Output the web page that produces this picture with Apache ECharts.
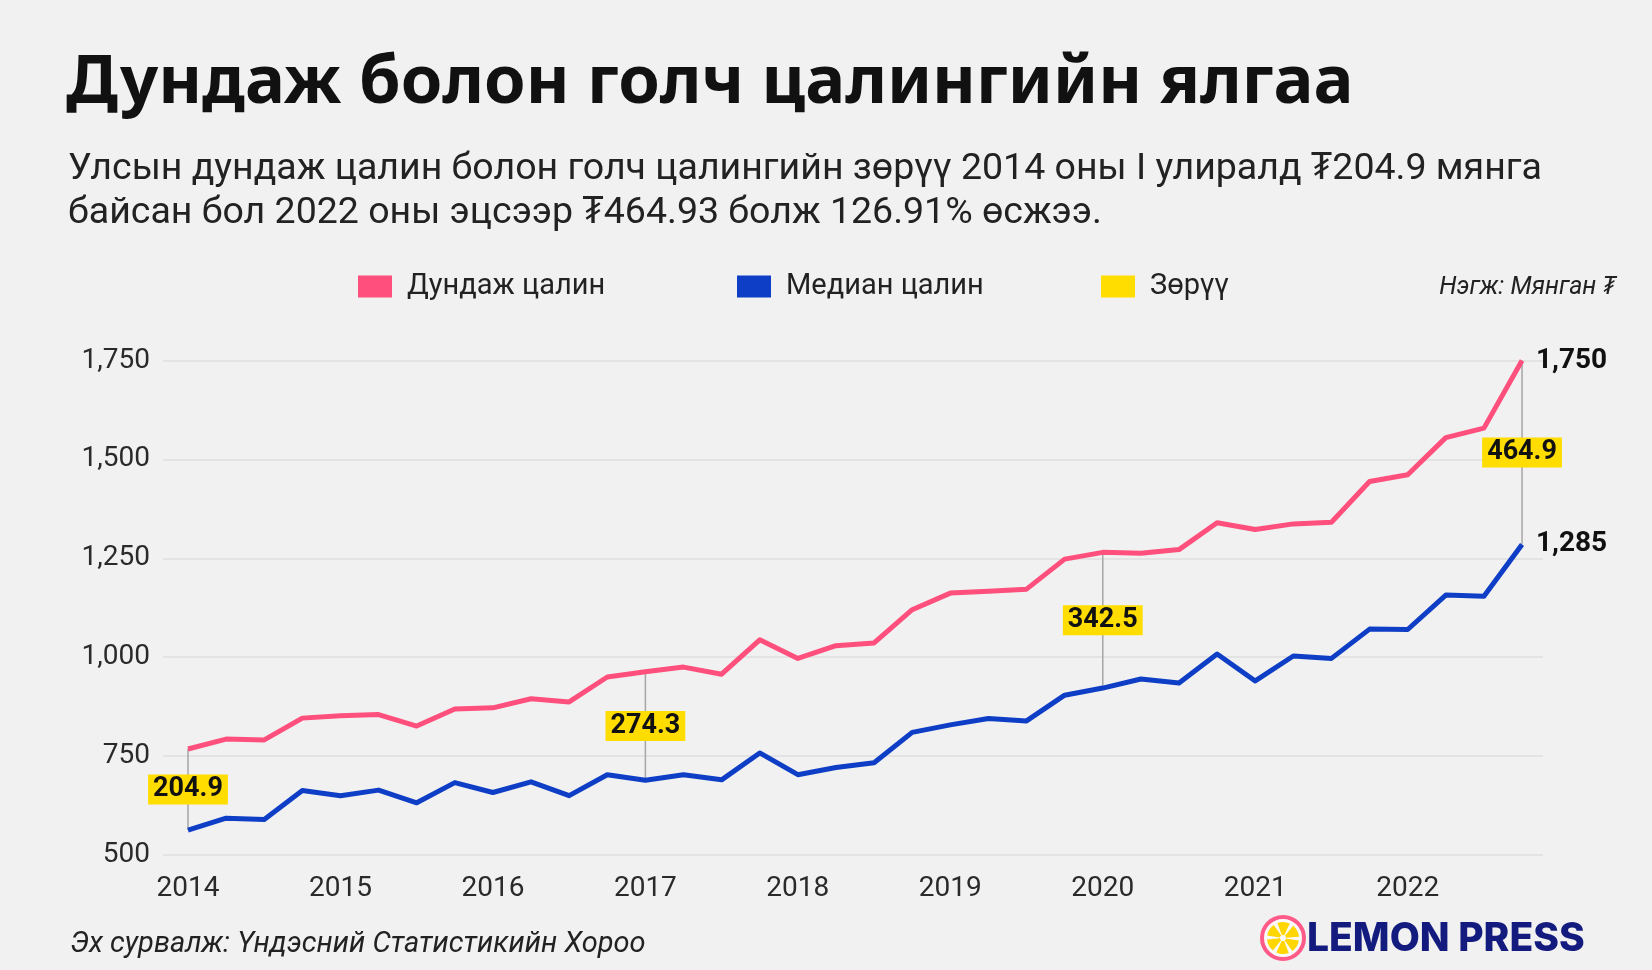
<!DOCTYPE html>
<html><head><meta charset="utf-8">
<script src="https://cdn.jsdelivr.net/npm/echarts@6/dist/echarts.min.js"></script>
<style>html,body{margin:0;padding:0;background:#f1f1f1}#c{width:1652px;height:970px}</style>
</head><body><div id="c"></div>
<script>
const quarters = ['2014 I','2014 II','2014 III','2014 IV','2015 I','2015 II','2015 III','2015 IV',
  '2016 I','2016 II','2016 III','2016 IV','2017 I','2017 II','2017 III','2017 IV',
  '2018 I','2018 II','2018 III','2018 IV','2019 I','2019 II','2019 III','2019 IV',
  '2020 I','2020 II','2020 III','2020 IV','2021 I','2021 II','2021 III','2021 IV',
  '2022 I','2022 II','2022 III','2022 IV'];
const meanWage = [768,793,791,846,852,855,826,869,872,895,887,950,
  963,975,957,1044,997,1029,1036,1120,1162,1167,1172,1248,
  1265,1263,1272,1340,1323,1337,1341,1444,1461,1555,1579,1750];
const medianWage = [563,593,590,663,650,664,632,683,658,685,650,703,
  689,703,690,758,703,721,733,810,829,845,839,904,
  922,945,935,1008,940,1003,997,1071,1070,1157,1154,1285];
const yearLabels = ['2014','2015','2016','2017','2018','2019','2020','2021','2022'];
const yearTickIdx = [0,4,8,12,16,20,24,28,32];
const gapIdx = [0,12,24,35];
const gapLabels = ['204.9','274.3','342.5','464.9'];
const seriesNames = ['Дундаж цалин','Медиан цалин','Зөрүү'];

const FONT = 'Roboto, "Noto Sans", "DejaVu Sans", sans-serif';
const HFONT = '"Noto Sans", Roboto, "DejaVu Sans", sans-serif';
const PINK = '#FF4F7C', BLUE = '#0E3EC6', YELLOW = '#FFDD00';

const chart = echarts.init(document.getElementById('c'));
const legendBase = {
  top: 272, padding: 0, itemWidth: 34, itemHeight: 22, icon: 'rect', selectedMode: false,
  textStyle: { fontFamily: FONT, fontSize: 29, color: '#222', padding: [0,0,0,10] }
};
chart.setOption({
  backgroundColor: '#f1f1f1',
  textStyle: { fontFamily: FONT },
  animation: false,
  grid: { left: 163, right: 109, top: 360.5, bottom: 115, containLabel: false },
  legend: [
    Object.assign({}, legendBase, { data: [seriesNames[0]], left: 358 }),
    Object.assign({}, legendBase, { data: [seriesNames[1]], left: 737 }),
    Object.assign({}, legendBase, { data: [seriesNames[2]], left: 1101 })
  ],
  xAxis: {
    type: 'value', min: -0.656, max: 35.55,
    axisLine: { show: false }, axisTick: { show: false }, splitLine: { show: false },
    axisLabel: {
      customValues: yearTickIdx,
      formatter: v => yearLabels[yearTickIdx.indexOf(v)] || '',
      fontSize: 28, color: '#2a2a2a', margin: 20, fontFamily: FONT
    }
  },
  yAxis: {
    type: 'value', min: 500, max: 1750, interval: 250,
    axisLine: { show: false }, axisTick: { show: false },
    axisLabel: { fontSize: 28, color: '#2a2a2a', margin: 13, fontFamily: FONT,
      formatter: v => v.toLocaleString('en-US') },
    splitLine: { lineStyle: { color: '#dedede', width: 1.5 } }
  },
  series: [
    {
      name: seriesNames[0], type: 'line', z: 3,
      data: meanWage.map((v, i) => [i, v]),
      symbol: 'none', color: PINK,
      lineStyle: { width: 5, color: PINK, join: 'round' },
      endLabel: { show: true, distance: 14, fontSize: 28, fontWeight: 'bold', color: '#111', fontFamily: FONT,
        formatter: p => p.value[1].toLocaleString('en-US') }
    },
    {
      name: seriesNames[1], type: 'line', z: 3,
      data: medianWage.map((v, i) => [i, v]),
      symbol: 'none', color: BLUE,
      lineStyle: { width: 5, color: BLUE, join: 'round' },
      endLabel: { show: true, distance: 14, fontSize: 28, fontWeight: 'bold', color: '#111', fontFamily: FONT,
        formatter: p => p.value[1].toLocaleString('en-US') }
    },
    {
      name: seriesNames[2], type: 'custom', z: 2,
      itemStyle: { color: YELLOW },
      encode: { x: 0, y: [1, 2] },
      data: gapIdx.map(i => [i, meanWage[i], medianWage[i]]),
      renderItem: (params, api) => {
        const x = api.value(0);
        const top = api.coord([x, api.value(1)]);
        const bot = api.coord([x, api.value(2)]);
        return { type: 'group', children: [
          { type: 'line', shape: { x1: top[0], y1: top[1], x2: bot[0], y2: bot[1] },
            style: { stroke: '#a6a6a6', lineWidth: 1.5 } },
          { type: 'text', x: top[0], y: (top[1] + bot[1]) / 2,
            style: { text: gapLabels[params.dataIndex], fontSize: 27, fontWeight: 'bold', fontFamily: FONT,
              fill: '#111', backgroundColor: YELLOW, padding: [2, 5, 1, 5],
              align: 'center', verticalAlign: 'middle' } }
        ] };
      }
    }
  ],
  graphic: [
    { type: 'text', x: 66, y: 84, style: { text: 'Дундаж болон голч цалингийн ялгаа',
      fontFamily: HFONT, fontSize: 67, fontWeight: 'bold', fill: '#111', verticalAlign: 'middle' } },
    { type: 'text', x: 68, y: 170, style: { text: 'Улсын дундаж цалин болон голч цалингийн зөрүү 2014 оны I улиралд ₮204.9 мянга',
      fontFamily: FONT, fontSize: 37.5, fill: '#222', verticalAlign: 'middle' } },
    { type: 'text', x: 68, y: 214, style: { text: 'байсан бол 2022 оны эцсээр ₮464.93 болж 126.91% өсжээ.',
      fontFamily: FONT, fontSize: 37.5, fill: '#222', verticalAlign: 'middle' } },
    { type: 'text', x: 1615, y: 288, style: { text: 'Нэгж: Мянган ₮',
      fontFamily: FONT, fontSize: 25, fontStyle: 'italic', fill: '#222', align: 'right', verticalAlign: 'middle' } },
    { type: 'text', x: 70, y: 945, style: { text: 'Эх сурвалж: Үндэсний Статистикийн Хороо',
      fontFamily: FONT, fontSize: 29, fontStyle: 'italic', fill: '#222', verticalAlign: 'middle' } },
    { type: 'group', x: 1283, y: 938, children: [
      { type: 'circle', shape: { cx: 0, cy: 0, r: 21 }, style: { fill: '#fafafa', stroke: '#FF5A88', lineWidth: 4 } },
      { type: 'sector', shape: { cx: 0, cy: 0, r0: 3, r: 16, startAngle: 0.15, endAngle: 0.95 }, style: { fill: '#FFD600' } },
      { type: 'sector', shape: { cx: 0, cy: 0, r0: 3, r: 16, startAngle: 1.2, endAngle: 2.0 }, style: { fill: '#FFD600' } },
      { type: 'sector', shape: { cx: 0, cy: 0, r0: 3, r: 16, startAngle: 2.25, endAngle: 3.05 }, style: { fill: '#FFD600' } },
      { type: 'sector', shape: { cx: 0, cy: 0, r0: 3, r: 16, startAngle: 3.3, endAngle: 4.1 }, style: { fill: '#FFD600' } },
      { type: 'sector', shape: { cx: 0, cy: 0, r0: 3, r: 16, startAngle: 4.35, endAngle: 5.15 }, style: { fill: '#FFD600' } },
      { type: 'sector', shape: { cx: 0, cy: 0, r0: 3, r: 16, startAngle: 5.4, endAngle: 6.2 }, style: { fill: '#FFD600' } }
    ] },
    { type: 'text', x: 1307, y: 939, style: { text: 'LEMON PRESS',
      fontFamily: 'Inter, Lato, sans-serif', fontSize: 39, fontWeight: 800, fill: '#131B7E', verticalAlign: 'middle' } }
  ]
});
</script></body></html>
